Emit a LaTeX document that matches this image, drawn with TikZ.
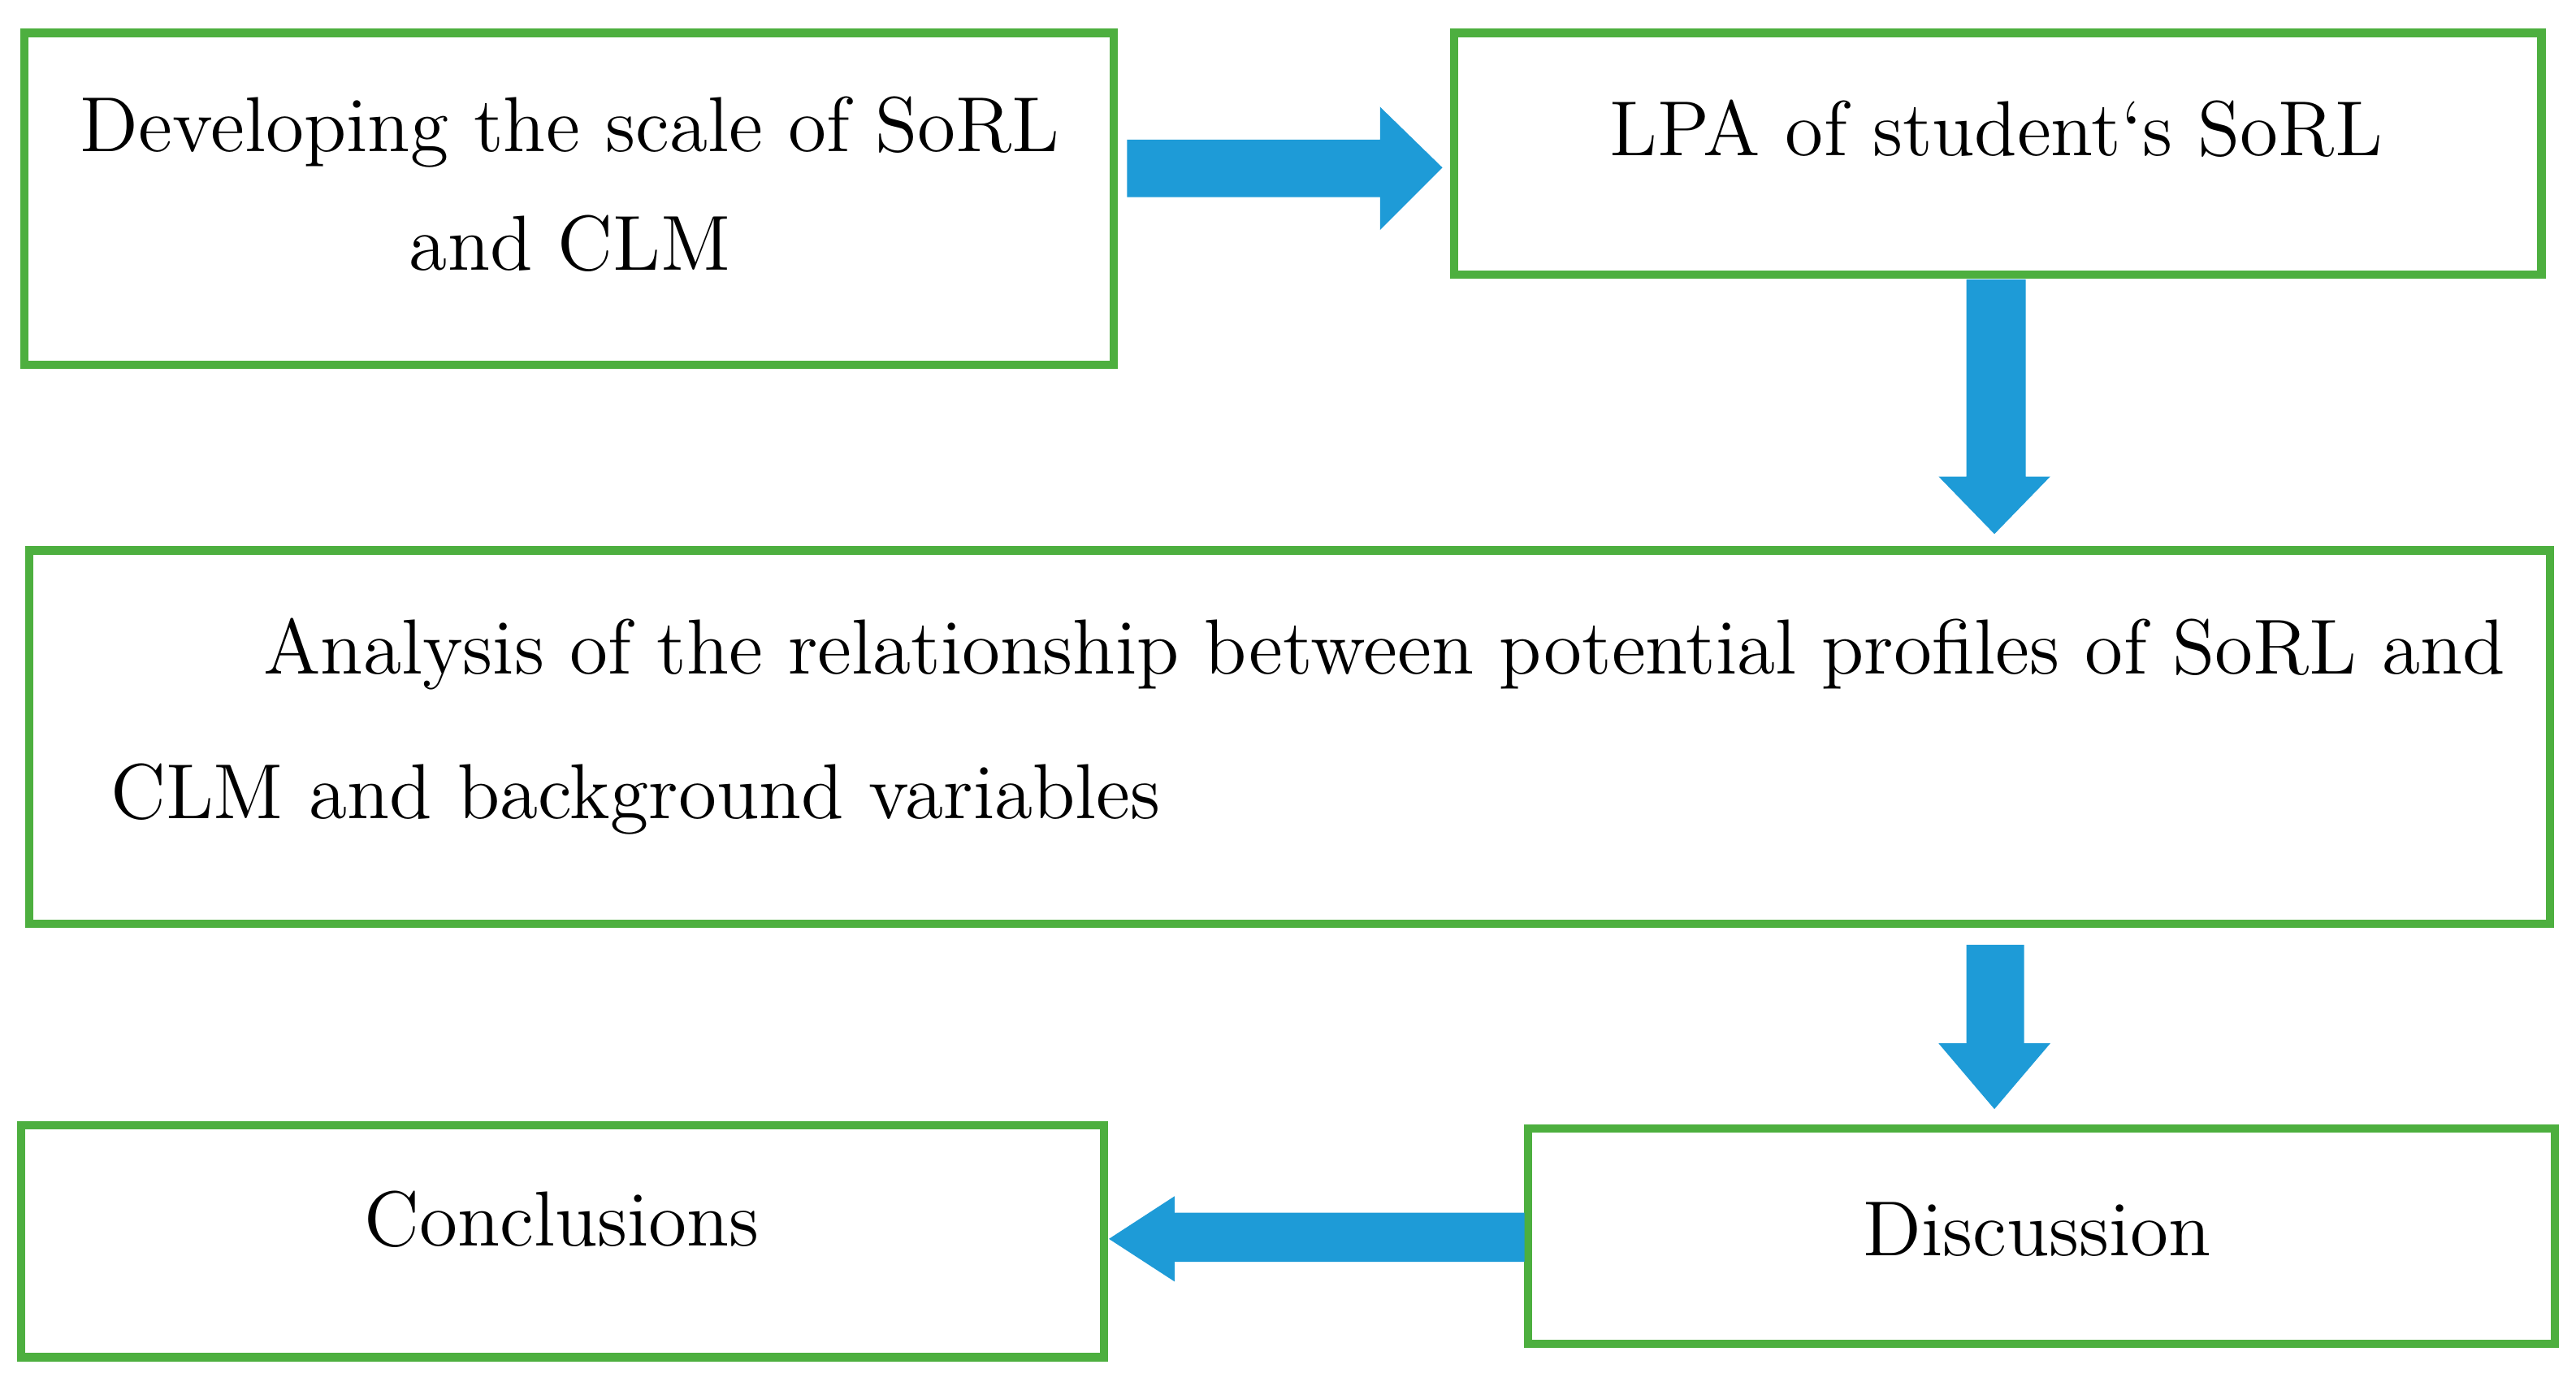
\documentclass[tikz,border=0pt]{standalone}
\usepackage{fontspec}
\setmainfont{Latin Modern Roman}
\begin{document}
\begin{tikzpicture}[x=0.01cm,y=-0.01cm,
  box/.style={draw=boxgreen,line width=0.05cm,fill=white},
  arr/.style={fill=arrblue,draw=none},
  lbl/.style={font=\fontsize{13.5}{20.5}\selectfont,align=center}]
\definecolor{boxgreen}{HTML}{4DAF3F}
\definecolor{arrblue}{HTML}{1E9BD7}
\useasboundingbox[fill=white] (0,0) rectangle (1568,841);
\draw[box] (15,20) rectangle (678,222);
\node[lbl] (t1) at (347,112) {Developing the scale of SoRL\\and CLM};
\draw[box] (885,20) rectangle (1547,167);
\node[lbl] (t2) at (1215,78) {LPA of student‘s SoRL};
\draw[box] (18,335) rectangle (1552,562);
\node[lbl,align=left,anchor=base west] (t3a) at (148,410) {Analysis of the relationship between potential profiles of SoRL and};
\node[lbl,align=left,anchor=base west] (t3b) at (55,498) {CLM and background variables};
\draw[box] (13,685) rectangle (672,826);
\node[lbl] (t4) at (342,742) {Conclusions};
\draw[box] (930,687) rectangle (1555,818);
\node[lbl] (t5) at (1240,748) {Discussion};
\fill[arr] (686,85) -- (840,85) -- (840,65) -- (878,102) -- (840,140) -- (840,120) -- (686,120) -- cycle;
\fill[arr] (1197,170) -- (1233,170) -- (1233,290) -- (1248,290) -- (1214,325) -- (1180,290) -- (1197,290) -- cycle;
\fill[arr] (1197,575) -- (1232,575) -- (1232,635) -- (1248,635) -- (1214,675) -- (1180,635) -- (1197,635) -- cycle;
\fill[arr] (928,738) -- (715,738) -- (715,728) -- (675,754) -- (715,780) -- (715,768) -- (928,768) -- cycle;
\end{tikzpicture}
\end{document}
